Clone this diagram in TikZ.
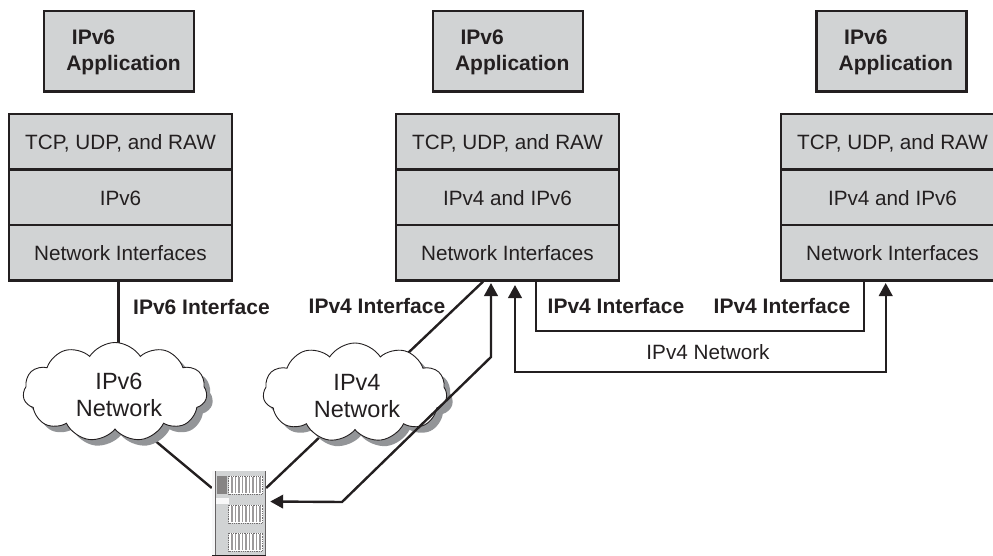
\documentclass[tikz,border=0pt]{standalone}
\usepackage{fontspec}
\setmainfont{Liberation Sans}
\usepackage{tikz}
\usetikzlibrary{
	arrows.meta,
	backgrounds,
	positioning,
	shadows,
	shapes.symbols
}
\definecolor{ink}{HTML}{231F20}
\definecolor{boxgray}{HTML}{D1D3D4}
\definecolor{shadowgray}{HTML}{939598}

\tikzset{
	every node/.style={text=ink,font=\fontsize{20.7}{26}\selectfont},
	app/.style={draw=ink,fill=boxgray,line width=2.4pt,minimum width=150pt,minimum height=80.5pt,
		align=left,inner sep=0pt,font=\fontsize{21}{26}\selectfont\bfseries},
	layer/.style={draw=ink,fill=boxgray,line width=2.4pt,minimum width=223pt,minimum height=55.5pt,
		inner sep=0pt,text height=16pt,text depth=0pt},
	iface/.style={inner sep=0pt,font=\fontsize{21}{26}\selectfont\bfseries},
	netcloud/.style={cloud,cloud puffs=11,cloud puff arc=115,aspect=1.85,draw=ink,fill=white,line width=0.9pt,
		minimum width=184pt,minimum height=99pt,inner sep=0pt,
		drop shadow={shadow xshift=6pt,shadow yshift=-6pt,fill=shadowgray,opacity=1}},
	cloudtext/.style={inner sep=0pt,align=center,font=\fontsize{23.5}{27}\selectfont},
	wire/.style={draw=ink,line width=2.4pt},
	bothtips/.style={wire,arrows={Triangle[length=13pt,width=13.5pt]-Triangle[length=13pt,width=13.5pt]}},
}
\newcommand{\applabel}{\rule{0pt}{17pt}\hspace*{14.6pt}IPv6\\\hspace*{9pt}Application}

\begin{document}
\begin{tikzpicture}[x=1pt,y=-1pt,node distance=55.5pt]
	\useasboundingbox (0,0) rectangle (993,556);
	\clip (0,0) rectangle (993,556);

	\draw
		node[app] at (119,51.2)    (app1) {\applabel}
		node[app] at (507.7,51.2)  (app2) {\applabel}
		node[app] at (891.3,51.2)  (app3) {\applabel}

		node[layer] at (120.5,141.7)   (tcp1) {TCP, UDP, and RAW}
		node[layer,below of=tcp1]      (ip1)  {IPv6}
		node[layer,below of=ip1]       (net1) {Network Interfaces}

		node[layer] at (507.5,141.7)   (tcp2) {TCP, UDP, and RAW}
		node[layer,below of=tcp2]      (ip2)  {IPv4 and IPv6}
		node[layer,below of=ip2]       (net2) {Network Interfaces}

		node[layer] at (892.5,141.7)   (tcp3) {TCP, UDP, and RAW}
		node[layer,below of=tcp3]      (ip3)  {IPv4 and IPv6}
		node[layer,below of=ip3]       (net3) {Network Interfaces}

		node[iface] at (201.5,307) (if6)  {IPv6 Interface}
		node[iface] at (377,306)   (if4a) {IPv4 Interface}
		node[iface] at (616,306)   (if4b) {IPv4 Interface}
		node[iface] at (782,306)   (if4c) {IPv4 Interface}
		node[inner sep=0pt] at (708,352) (v4net) {IPv4 Network}

		node[netcloud] at (115,392)   (cloud6) {}
		node[netcloud] at (355,392.5) (cloud4) {}
		node[cloudtext] at (119,395)  (text6)  {IPv6\\Network}
		node[cloudtext] at (357,396)  (text4)  {IPv4\\Network}
		node[minimum width=54pt,minimum height=84pt,inner sep=0pt,fill=boxgray] at (239,513) (server) {}
	;

	% server front
	\fill[white!85!boxgray] (212,471) rectangle (215,555);
	\draw[ink!70,line width=1pt] (215,471) -- (215,555);
	\draw[ink!70,line width=1.2pt] (265.5,471) -- (265.5,555);
	\draw[ink,line width=1.4pt] (212,555.3) -- (266,555.3);
	\fill[ink!55] (216.5,476) rectangle (227,494);
	\fill[white!85!boxgray] (216,498) rectangle (229,504);
	\foreach \top in {476,505,533}{
		\fill[white] (228.5,\top) rectangle (262.5,\top+18);
		\draw[ink!65,line width=0.8pt,densely dotted] (228.5,\top) rectangle (262.5,\top+18);
		\foreach \bar in {0,...,8}{
			\fill[ink!45] (231+\bar*3.5,\top+1) rectangle (232.5+\bar*3.5,\top+17);
		}
	}

	\begin{scope}[on background layer]
		\draw[wire] ([xshift=-2pt]net1.south) -- ([xshift=-2pt]net1.south |- cloud6.center);
		\draw[wire] ([xshift=27pt]cloud6.south) -- ([yshift=25pt]server.west);
		\draw[wire] ([xshift=-24.5pt]net2.south) -- ([yshift=25pt]server.east);
	\end{scope}

	\coordinate (bendA) at (342,502);
	\coordinate (bendB) at (491,357);
	\coordinate (bendC) at (515,372);
	\coordinate (bendD) at (885.7,372);
	\coordinate (bendE) at (535.7,330.7);
	\coordinate (bendF) at (864,330.7);

	\draw[bothtips] ([xshift=4pt,yshift=11.5pt]server.east) -- (bendA) -- (bendB) -- (491,283);
	\draw[bothtips] (515,285) -- (bendC) -- (bendD) -- (885.7,283);
	\draw[wire] (net2.south -| bendE) -- (bendE) -- (bendF) -- (net3.south -| bendF);
\end{tikzpicture}
\end{document}
